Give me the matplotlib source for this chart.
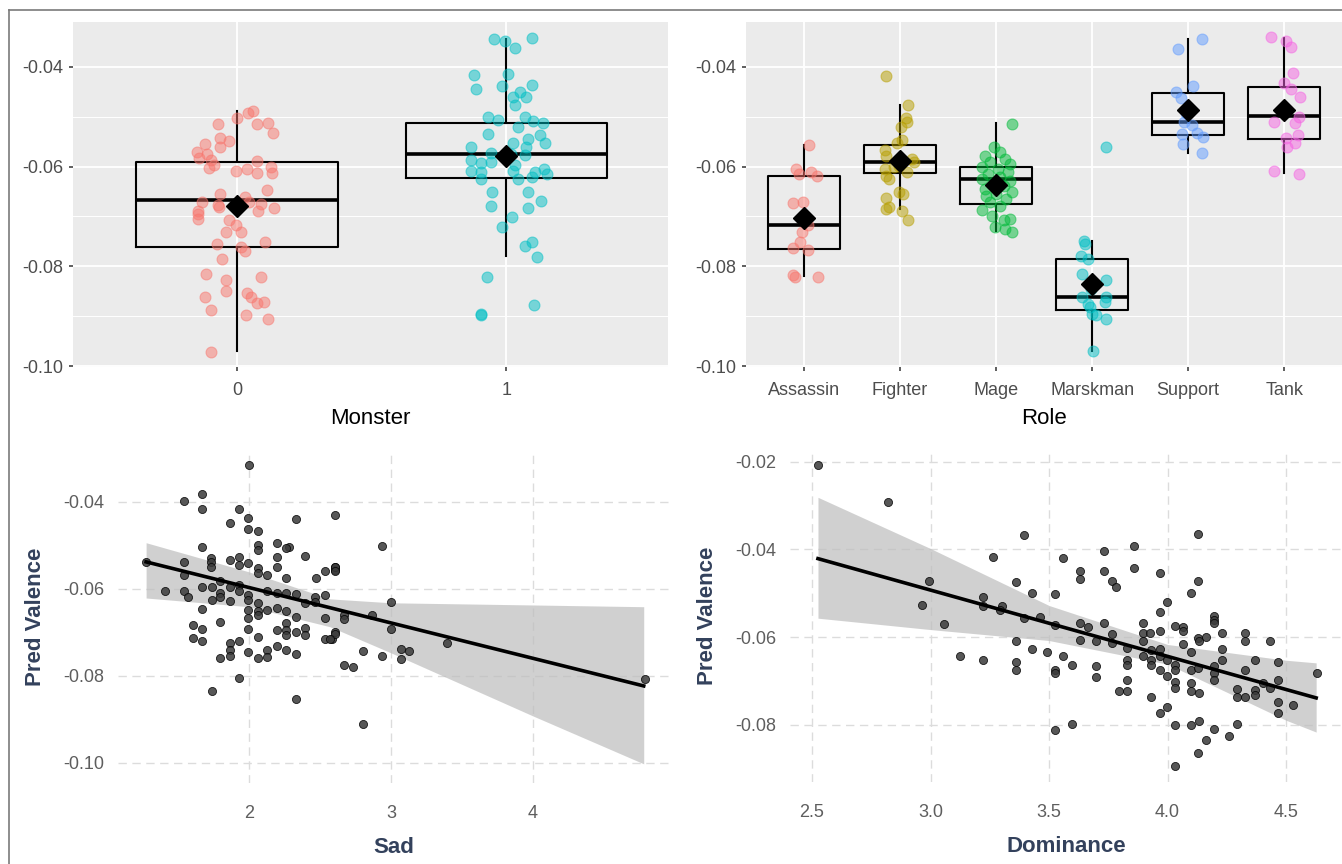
import numpy as np
import matplotlib
matplotlib.use("Agg")
import matplotlib.pyplot as plt
from matplotlib.lines import Line2D

plt.rcParams['font.family'] = ['Liberation Sans', 'DejaVu Sans']

# ---- Monster panel (jitter offsets in category units, values) ----
monster_names = ['0', '1']
monster_colors = ['#F8766D', '#00BFC4']
monster0_dx = [0.041, 0.059, 0.0, -0.070, 0.074, 0.115, 0.133, -0.063, -0.030, -0.119, -0.063, -0.148,
               -0.111, -0.141, -0.096, 0.074, -0.085, -0.104, -0.004, 0.037, 0.074, 0.126, 0.130, 0.111,
               -0.063, 0.030, -0.130, -0.070, 0.044, 0.089, 0.137, -0.144, -0.144, -0.144, -0.030, -0.067,
               0.078, -0.004, 0.015, -0.041, -0.074, 0.104, 0.015, 0.030, -0.056, -0.115, 0.089, -0.041,
               -0.041, 0.037, -0.119, 0.052, 0.074, 0.100, -0.096, 0.033, 0.115, -0.096]
monster0_y = [-0.0492, -0.0488, -0.0502, -0.0514, -0.0514, -0.0512, -0.0532, -0.0542, -0.0548, -0.0554,
              -0.0560, -0.0570, -0.0574, -0.0582, -0.0586, -0.0588, -0.0597, -0.0603, -0.0609, -0.0605,
              -0.0613, -0.0601, -0.0613, -0.0647, -0.0655, -0.0661, -0.0671, -0.0677, -0.0671, -0.0675,
              -0.0683, -0.0689, -0.0695, -0.0705, -0.0707, -0.0681, -0.0689, -0.0717, -0.0731, -0.0731,
              -0.0755, -0.0751, -0.0761, -0.0769, -0.0785, -0.0815, -0.0821, -0.0827, -0.0849, -0.0853,
              -0.0861, -0.0861, -0.0873, -0.0871, -0.0887, -0.0897, -0.0905, -0.0971]
monster1_dx = [-0.048, -0.007, 0.033, 0.093, -0.122, 0.004, -0.115, -0.015, 0.096, 0.052, 0.026, 0.074,
               0.033, -0.067, -0.030, 0.070, 0.100, 0.137, 0.044, -0.070, 0.126, 0.081, 0.144, -0.130,
               0.026, 0.074, -0.059, 0.015, 0.070, -0.133, -0.096, -0.056, 0.033, -0.130, -0.093, 0.026,
               0.107, 0.141, 0.152, -0.096, 0.044, 0.096, -0.052, 0.081, -0.056, 0.081, 0.130, 0.022,
               -0.015, 0.070, 0.096, 0.115, -0.074, 0.104, -0.096, -0.096]
monster1_y = [-0.0344, -0.0348, -0.0362, -0.0342, -0.0416, -0.0414, -0.0444, -0.0438, -0.0436, -0.0450,
              -0.0460, -0.0460, -0.0476, -0.0500, -0.0506, -0.0500, -0.0508, -0.0512, -0.0520, -0.0534,
              -0.0536, -0.0544, -0.0552, -0.0560, -0.0552, -0.0560, -0.0572, -0.0574, -0.0576, -0.0586,
              -0.0592, -0.0590, -0.0596, -0.0609, -0.0611, -0.0609, -0.0611, -0.0605, -0.0615, -0.0625,
              -0.0625, -0.0621, -0.0651, -0.0651, -0.0679, -0.0683, -0.0669, -0.0701, -0.0721, -0.0759,
              -0.0751, -0.0781, -0.0821, -0.0877, -0.0895, -0.0897]
monster_q1 = [-0.0762, -0.0622]
monster_med = [-0.0668, -0.0574]
monster_q3 = [-0.0590, -0.0512]
monster_lo = [-0.0970, -0.0780]
monster_hi = [-0.0488, -0.0344]
monster_mean = [-0.0680, -0.0578]

# ---- Role panel ----
roles = ['Assassin', 'Fighter', 'Mage', 'Marskman', 'Support', 'Tank']
role_colors = ['#F8766D', '#B79F00', '#00BA38', '#00BFC4', '#619CFF', '#F564E3']
role_dx = [
    [0.06, -0.08, -0.05, 0.08, 0.14, -0.11, -0.01, -0.02, 0.05, -0.04, -0.11, 0.05, -0.09, 0.15, -0.11],
    [-0.14, 0.09, 0.08, 0.06, 0.01, 0.02, -0.03, -0.15, -0.14, 0.13, 0.15, -0.15, -0.14, 0.07, -0.01,
     -0.11, -0.01, 0.03, -0.14, -0.11, 0.02, -0.14, 0.09, -0.06],
    [0.17, -0.02, 0.04, -0.11, 0.09, -0.06, 0.15, -0.15, 0.02, 0.13, -0.08, 0.04, -0.15, 0.15, -0.03,
     0.08, -0.11, 0.17, 0.0, -0.10, 0.10, -0.06, 0.04, -0.15, 0.15, -0.04, 0.08, 0.17, -0.01, 0.09],
    [-0.08, -0.07, -0.11, -0.04, -0.10, 0.15, -0.01, -0.10, 0.14, 0.13, -0.04, -0.02, 0.0, 0.04, 0.15,
     0.01, 0.15],
    [-0.11, 0.14, 0.05, -0.13, -0.07, -0.02, -0.04, 0.04, -0.06, 0.09, 0.15, -0.05, 0.14],
    [-0.14, 0.02, 0.07, 0.09, 0.0, 0.07, 0.16, 0.03, 0.15, -0.11, 0.11, 0.14, 0.02, 0.11, 0.03, -0.11, 0.15],
]
role_y = [
    [-0.0557, -0.0605, -0.0615, -0.0611, -0.0619, -0.0673, -0.0671, -0.0731, -0.0717, -0.0751, -0.0763,
     -0.0768, -0.0821, -0.0821, -0.0818],
    [-0.0418, -0.0476, -0.0510, -0.0502, -0.0520, -0.0546, -0.0552, -0.0566, -0.0579, -0.0585, -0.0591,
     -0.0605, -0.0619, -0.0611, -0.0599, -0.0625, -0.0651, -0.0655, -0.0663, -0.0681, -0.0689, -0.0685,
     -0.0707, -0.0600],
    [-0.0514, -0.0560, -0.0570, -0.0578, -0.0585, -0.0590, -0.0595, -0.0600, -0.0605, -0.0610, -0.0615,
     -0.0620, -0.0625, -0.0628, -0.0632, -0.0638, -0.0645, -0.0650, -0.0655, -0.0660, -0.0665, -0.0672,
     -0.0680, -0.0688, -0.0705, -0.0700, -0.0708, -0.0731, -0.0721, -0.0725],
    [-0.0749, -0.0755, -0.0779, -0.0785, -0.0815, -0.0827, -0.0845, -0.0861, -0.0861, -0.0871, -0.0875,
     -0.0881, -0.0895, -0.0897, -0.0905, -0.0970, -0.0560],
    [-0.0364, -0.0344, -0.0438, -0.0450, -0.0462, -0.0492, -0.0510, -0.0516, -0.0534, -0.0532, -0.0540,
     -0.0554, -0.0573],
    [-0.0340, -0.0348, -0.0360, -0.0412, -0.0432, -0.0444, -0.0460, -0.0486, -0.0500, -0.0510, -0.0512,
     -0.0536, -0.0542, -0.0552, -0.0560, -0.0609, -0.0615],
]
role_q1 = [-0.0765, -0.0613, -0.0675, -0.0887, -0.0536, -0.0544]
role_med = [-0.0717, -0.0590, -0.0625, -0.0861, -0.0510, -0.0498]
role_q3 = [-0.0619, -0.0557, -0.0601, -0.0785, -0.0452, -0.0440]
role_lo = [-0.0819, -0.0685, -0.0729, -0.0970, -0.0573, -0.0613]
role_hi = [-0.0556, -0.0476, -0.0512, -0.0749, -0.0344, -0.0342]
role_mean = [-0.0703, -0.0588, -0.0637, -0.0835, -0.0486, -0.0486]

# ---- Sad scatter ----
sad_x = [2.002, 1.671, 1.671, 1.542, 1.932, 1.995, 1.866, 1.995, 2.066, 2.329, 1.671, 2.066, 2.066, 2.195,
         2.284, 2.261, 2.394, 1.542, 1.730, 1.730, 1.730, 1.866, 1.932, 1.932, 1.995, 2.066, 2.066, 2.195,
         2.195, 2.124, 1.275, 1.408, 1.542, 1.542, 1.573, 1.671, 1.671, 1.737, 1.737, 1.796, 1.796, 1.796,
         1.866, 1.866, 1.932, 1.932, 1.995, 1.995, 1.995, 1.995, 2.066, 2.066, 2.066, 2.124, 2.124, 2.195,
         2.195, 2.261, 2.261, 2.261, 2.261, 2.329, 2.329, 2.394, 2.465, 2.465, 2.535, 2.472, 2.535, 2.606,
         2.606, 1.603, 1.671, 1.603, 1.671, 1.796, 1.995, 2.066, 2.195, 2.261, 2.261, 2.329, 2.394, 2.394,
         2.535, 2.535, 2.582, 2.606, 1.866, 1.932, 1.866, 1.796, 1.866, 1.995, 2.066, 2.124, 2.124, 2.195,
         2.261, 2.329, 1.932, 1.737, 2.329,
         2.606, 2.934, 2.606, 2.606, 2.998, 2.669, 2.669, 2.869, 2.606, 2.570, 2.998, 2.800, 2.934, 3.068,
         3.068, 3.129, 2.669, 2.735, 3.392, 2.800, 4.789]
sad_y = [-0.0315, -0.0382, -0.0416, -0.0398, -0.0416, -0.0438, -0.0448, -0.0462, -0.0466, -0.0440, -0.0503,
         -0.0499, -0.0510, -0.0495, -0.0503, -0.0507, -0.0524, -0.0539, -0.0530, -0.0539, -0.0549, -0.0533,
         -0.0526, -0.0545, -0.0541, -0.0552, -0.0564, -0.0527, -0.0549, -0.0569, -0.0539, -0.0606, -0.0569,
         -0.0606, -0.0618, -0.0595, -0.0646, -0.0595, -0.0625, -0.0583, -0.0610, -0.0618, -0.0595, -0.0629,
         -0.0591, -0.0606, -0.0614, -0.0625, -0.0648, -0.0667, -0.0633, -0.0652, -0.0660, -0.0606, -0.0648,
         -0.0610, -0.0644, -0.0575, -0.0610, -0.0652, -0.0679, -0.0612, -0.0664, -0.0633, -0.0618, -0.0631,
         -0.0614, -0.0575, -0.0560, -0.0556, -0.0550, -0.0683, -0.0693, -0.0713, -0.0719, -0.0677, -0.0693,
         -0.0710, -0.0694, -0.0694, -0.0706, -0.0698, -0.0690, -0.0706, -0.0667, -0.0716, -0.0716, -0.0700,
         -0.0725, -0.0719, -0.0740, -0.0759, -0.0754, -0.0744, -0.0759, -0.0740, -0.0756, -0.0731, -0.0740,
         -0.0749, -0.0805, -0.0834, -0.0854,
         -0.0430, -0.0501, -0.0550, -0.0558, -0.0631, -0.0660, -0.0670, -0.0660, -0.0703, -0.0716, -0.0693,
         -0.0742, -0.0754, -0.0739, -0.0760, -0.0742, -0.0775, -0.0779, -0.0725, -0.0910, -0.0808]
sad_fit_x = [1.275, 4.78]
sad_fit_y = [-0.0538, -0.0823]
sad_band_x = [1.275, 2.0, 2.57, 3.0, 4.0, 4.78]
sad_band_hi = [-0.0494, -0.0561, -0.0623, -0.0632, -0.0637, -0.0641]
sad_band_lo = [-0.0621, -0.0641, -0.0687, -0.0747, -0.0892, -0.1002]

# ---- Dominance scatter ----
dom_x = [2.527, 2.822, 3.262, 2.995, 3.223, 3.223, 2.963, 3.057, 3.300, 3.124, 3.223,
         3.395, 4.130, 3.860, 3.732, 3.558, 3.631, 3.631, 3.732, 3.860, 3.966, 3.765, 3.783, 3.361, 3.427,
         3.525, 4.098, 4.130, 3.999, 3.966, 3.631, 3.666, 3.732, 3.895, 4.032, 4.064, 4.064, 4.194, 4.196,
         4.196, 4.229, 4.162, 4.130, 4.134, 4.327, 4.327, 4.433, 3.361, 3.427, 3.493, 3.558, 3.596, 3.631,
         3.699, 3.765, 3.765, 3.828, 3.828, 3.828, 3.895, 3.895, 3.895, 3.926, 3.929, 3.929, 3.929, 3.966,
         3.966, 3.966, 3.966, 3.999, 4.032, 4.032, 3.999, 4.032, 4.032, 4.064, 4.098, 4.098, 4.130, 4.196,
         4.196, 4.196, 4.229, 4.229, 4.295, 4.295, 4.327, 4.327, 4.369, 4.369, 4.369, 4.401, 4.433, 4.468,
         4.468, 4.468, 4.468, 4.531, 4.632, 3.361, 3.361, 3.525, 3.525, 3.699, 3.699, 3.797, 3.828, 3.828,
         3.929, 3.966, 3.999, 4.032, 4.098, 4.098, 4.134, 4.098, 4.134, 4.196, 4.162, 4.261, 4.295, 4.130,
         4.032, 3.525, 3.596, 3.395, 3.460, 3.525, 3.293]
dom_y = [-0.0208, -0.0291, -0.0418, -0.0471, -0.0509, -0.0529, -0.0528, -0.0570, -0.0530, -0.0643, -0.0652,
         -0.0368, -0.0364, -0.0393, -0.0403, -0.0420, -0.0450, -0.0467, -0.0450, -0.0443, -0.0454, -0.0471,
         -0.0485, -0.0475, -0.0500, -0.0502, -0.0500, -0.0472, -0.0521, -0.0543, -0.0567, -0.0577, -0.0567,
         -0.0567, -0.0574, -0.0576, -0.0586, -0.0552, -0.0561, -0.0568, -0.0591, -0.0599, -0.0603, -0.0608,
         -0.0591, -0.0610, -0.0610, -0.0610, -0.0627, -0.0635, -0.0643, -0.0663, -0.0606, -0.0610, -0.0593,
         -0.0614, -0.0625, -0.0652, -0.0663, -0.0590, -0.0610, -0.0644, -0.0591, -0.0629, -0.0652, -0.0663,
         -0.0586, -0.0628, -0.0643, -0.0676, -0.0652, -0.0663, -0.0675, -0.0689, -0.0702, -0.0717, -0.0616,
         -0.0635, -0.0676, -0.0671, -0.0667, -0.0682, -0.0698, -0.0628, -0.0652, -0.0719, -0.0736, -0.0676,
         -0.0736, -0.0652, -0.0721, -0.0732, -0.0705, -0.0717, -0.0656, -0.0699, -0.0749, -0.0774, -0.0755,
         -0.0681, -0.0656, -0.0676, -0.0676, -0.0682, -0.0667, -0.0691, -0.0724, -0.0699, -0.0724, -0.0737,
         -0.0774, -0.0759, -0.0802, -0.0705, -0.0724, -0.0727, -0.0802, -0.0791, -0.0810, -0.0835, -0.0826,
         -0.0799, -0.0864, -0.0894, -0.0813, -0.0798, -0.0557, -0.0555, -0.0572, -0.0538]
dom_fit_x = [2.525, 4.627]
dom_fit_y = [-0.0421, -0.0739]
dom_band_x = [2.525, 3.0, 3.5, 4.0, 4.5, 4.627]
dom_band_hi = [-0.0281, -0.0398, -0.0528, -0.0617, -0.0653, -0.0659]
dom_band_lo = [-0.0557, -0.0583, -0.0608, -0.0662, -0.0790, -0.0817]

W, H = 1342, 864
fig = plt.figure(figsize=(W / 100, H / 100), dpi=100)


def px_axes(x0, y0, x1, y1):
    return fig.add_axes([x0 / W, 1 - y1 / H, (x1 - x0) / W, (y1 - y0) / H])


def style_grey(ax):
    ax.set_facecolor('#EBEBEB')
    for s in ax.spines.values():
        s.set_visible(False)
    ax.set_yticks([-0.10, -0.08, -0.06, -0.04])
    ax.set_yticklabels(['-0.10', '-0.08', '-0.06', '-0.04'])
    ax.set_yticks([-0.09, -0.07, -0.05], minor=True)
    ax.grid(True, which='major', color='white', lw=1.3)
    ax.grid(True, which='minor', axis='y', color='white', lw=0.7)
    ax.set_axisbelow(True)
    ax.tick_params(which='major', length=3, width=1.1, color='#333333', labelcolor='#4D4D4D',
                   labelsize=13, pad=4)
    ax.tick_params(axis='x', which='major', pad=8)
    ax.tick_params(which='minor', length=0)
    ax.set_ylim(-0.1002, -0.0310)


def draw_boxes(ax, pos, q1, med, q3, lo, hi):
    stats = [dict(q1=a, med=b, q3=c, whislo=d, whishi=e, fliers=[])
             for a, b, c, d, e in zip(q1, med, q3, lo, hi)]
    ax.bxp(stats, positions=pos, widths=0.75, showcaps=False, showfliers=False,
           boxprops=dict(color='black', lw=1.5),
           whiskerprops=dict(color='black', lw=1.5),
           medianprops=dict(color='black', lw=2.6), manage_ticks=False, zorder=2)


def jitter(ax, x0, dx, y, color):
    xs = [x0 + d for d in dx]
    ax.scatter(xs, y, s=62, facecolor=color, edgecolor=color, alpha=0.5, lw=0.8, zorder=3)


# top-left: Monster
ax1 = px_axes(73, 22, 668, 367)
style_grey(ax1)
draw_boxes(ax1, [0, 1], monster_q1, monster_med, monster_q3, monster_lo, monster_hi)
jitter(ax1, 0, monster0_dx, monster0_y, monster_colors[0])
jitter(ax1, 1, monster1_dx, monster1_y, monster_colors[1])
ax1.plot([0, 1], monster_mean, ls='none', marker='D', ms=11.5, color='black', zorder=4)
ax1.set_xlim(-0.61, 1.6)
ax1.set_xticks([0, 1])
ax1.set_xticklabels(monster_names)
ax1.set_xlabel('Monster', fontsize=16, labelpad=6.5)

# top-right: Role
ax2 = px_axes(746, 22, 1342, 367)
style_grey(ax2)
pos = list(range(len(roles)))
draw_boxes(ax2, pos, role_q1, role_med, role_q3, role_lo, role_hi)
for i in pos:
    jitter(ax2, i, role_dx[i], role_y[i], role_colors[i])
ax2.plot(pos, role_mean, ls='none', marker='D', ms=11.5, color='black', zorder=4)
ax2.set_xlim(-0.6, 5.6)
ax2.set_xticks(pos)
ax2.set_xticklabels(roles)
ax2.set_xlabel('Role', fontsize=16, labelpad=6.5)


def style_min(ax):
    for s in ax.spines.values():
        s.set_visible(False)
    ax.grid(True, color='#DCDCDC', lw=1.0, ls=(0, (6, 4)))
    ax.set_axisbelow(True)
    ax.tick_params(length=0, labelcolor='#5E5E5E', labelsize=13)
    ax.tick_params(axis='x', pad=16)
    ax.tick_params(axis='y', pad=10)
    ax.set_ylabel('Pred Valence', fontsize=16, fontweight='bold', color='#33415C', labelpad=12)


# bottom-left: Sad
ax3 = px_axes(118, 450, 670, 783)
style_min(ax3)
ax3.fill_between(sad_band_x, sad_band_lo, sad_band_hi, color='#BDBDBD', alpha=0.7, lw=0, zorder=2)
ax3.scatter(sad_x, sad_y, s=34, facecolor='#3A3A3A', edgecolor='black', alpha=0.85, lw=0.6, zorder=3)
ax3.plot(sad_fit_x, sad_fit_y, color='black', lw=2.6, zorder=4)
ax3.set_xlim(1.077, 4.965)
ax3.set_ylim(-0.1046, -0.0281)
ax3.set_xticks([2, 3, 4])
ax3.set_yticks([-0.10, -0.08, -0.06, -0.04])
ax3.set_yticklabels(['-0.10', '-0.08', '-0.06', '-0.04'])
ax3.set_xlabel('Sad', fontsize=16, fontweight='bold', color='#33415C', labelpad=10.5)

# bottom-right: Dominance
ax4 = px_axes(790, 450, 1342, 782)
style_min(ax4)
ax4.fill_between(dom_band_x, dom_band_lo, dom_band_hi, color='#BDBDBD', alpha=0.7, lw=0, zorder=2)
ax4.scatter(dom_x, dom_y, s=34, facecolor='#3A3A3A', edgecolor='black', alpha=0.85, lw=0.6, zorder=3)
ax4.plot(dom_fit_x, dom_fit_y, color='black', lw=2.6, zorder=4)
ax4.set_xlim(2.407, 4.736)
ax4.set_ylim(-0.0931, -0.0173)
ax4.set_xticks([2.5, 3.0, 3.5, 4.0, 4.5])
ax4.set_xticklabels(['2.5', '3.0', '3.5', '4.0', '4.5'])
ax4.set_yticks([-0.08, -0.06, -0.04, -0.02])
ax4.set_yticklabels(['-0.08', '-0.06', '-0.04', '-0.02'])
ax4.set_xlabel('Dominance', fontsize=16, fontweight='bold', color='#33415C', labelpad=10.5)

# outer frame (top and left edges visible)
fig.add_artist(Line2D([9 / W, 9 / W], [0, 1 - 10 / H], color='#7A7A7A', lw=1.2))
fig.add_artist(Line2D([9 / W, 1], [1 - 10 / H, 1 - 10 / H], color='#7A7A7A', lw=1.2))

fig.savefig('out.png', dpi=100, facecolor='white')
